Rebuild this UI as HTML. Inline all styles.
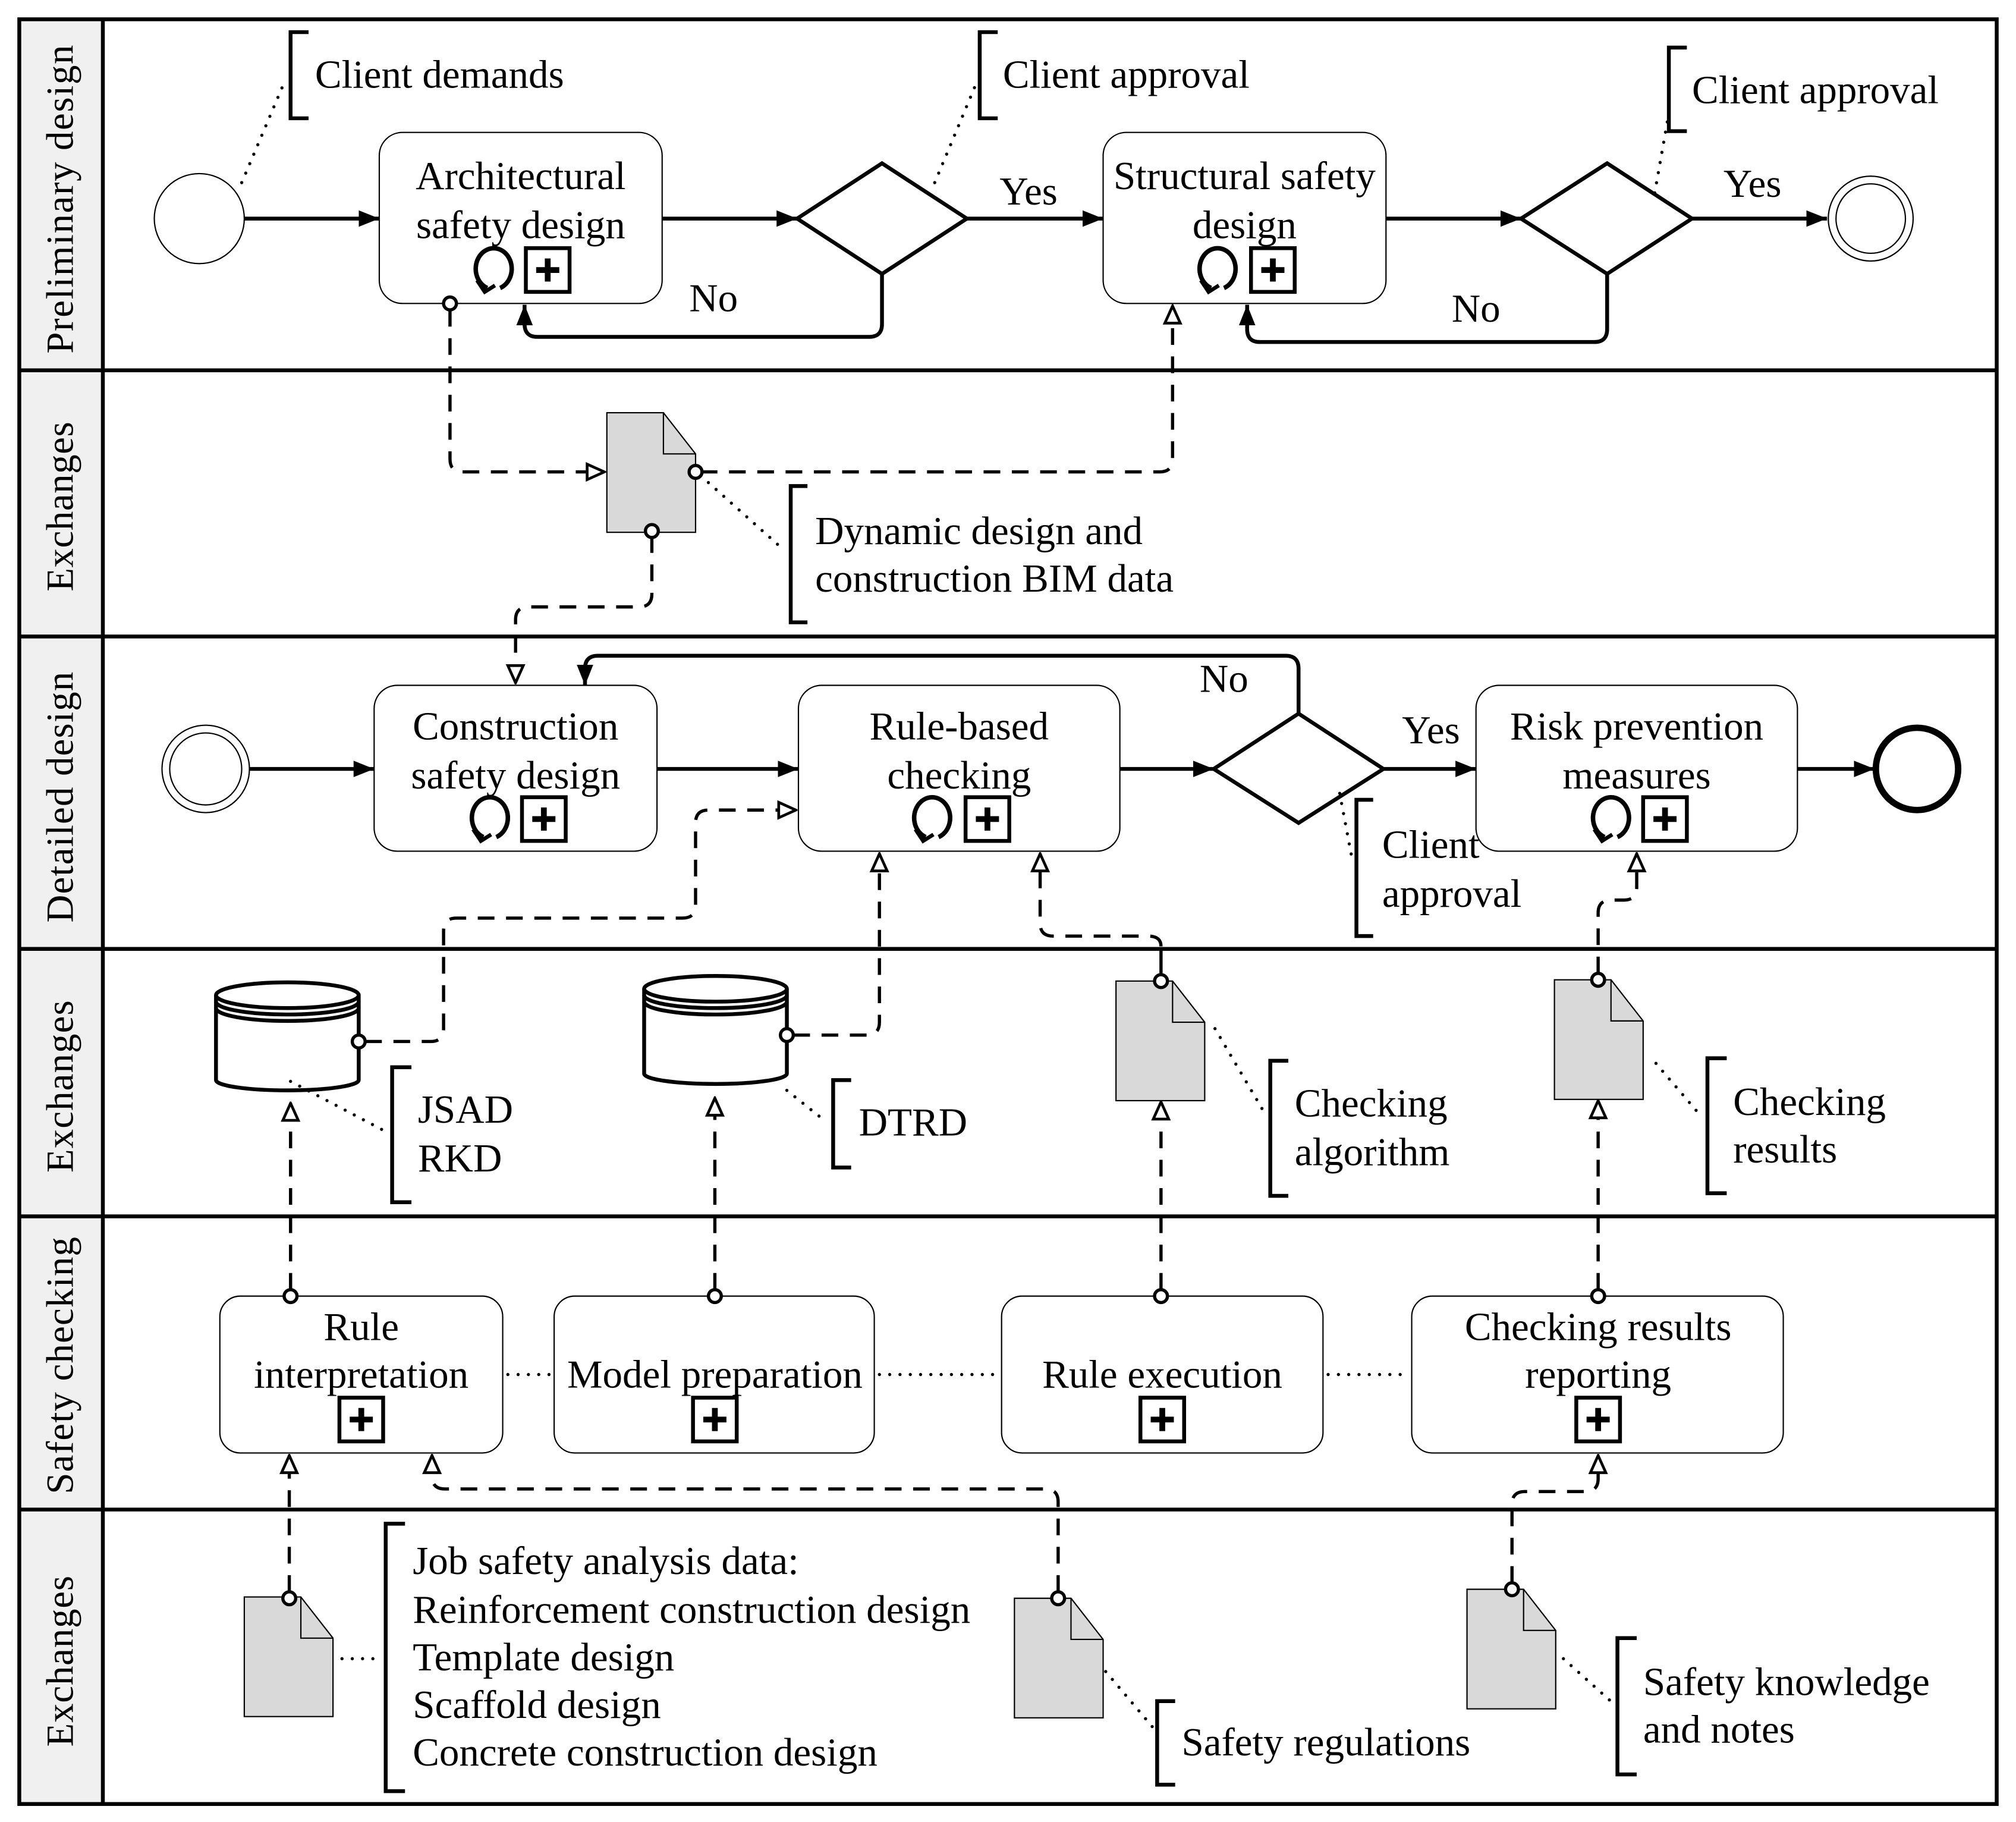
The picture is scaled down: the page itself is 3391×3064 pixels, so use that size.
<!DOCTYPE html>
<html><head><meta charset="utf-8"><style>html,body{margin:0;padding:0;background:#fff}svg{display:block}</style></head>
<body>
<svg width="3391" height="3064" viewBox="0 0 1568 1417" preserveAspectRatio="none" xmlns="http://www.w3.org/2000/svg" font-family="'Liberation Serif', serif" font-size="31">
<defs>
<marker id="fb" viewBox="0 0 10 10" refX="10" refY="5" markerWidth="16" markerHeight="16" markerUnits="userSpaceOnUse" orient="auto"><path d="M0,1 L10,5 L0,9 z" fill="#000"/></marker>
<marker id="oa" viewBox="0 0 12 12" refX="11" refY="6" markerWidth="16" markerHeight="16" markerUnits="userSpaceOnUse" orient="auto"><path d="M1,1.5 L11,6 L1,10.5 z" fill="#fff" stroke="#000" stroke-width="1.6"/></marker>
<g id="loop"><path d="M-4,14 A14,16 0 1 1 6,14" fill="none" stroke="#000" stroke-width="3.5"/><path d="M-12,8 L-6,17 L2,12" fill="none" stroke="#000" stroke-width="3"/></g>
<g id="plus"><rect x="-17" y="-17" width="34" height="34" fill="#fff" stroke="#000" stroke-width="3"/><path d="M-9,0 H9 M0,-9 V9" stroke="#000" stroke-width="4.5"/></g>
<g id="doc"><path d="M0,0 H44 L69,32 V93 H0 Z" fill="#d9d9d9" stroke="#000" stroke-width="1"/><path d="M44,0 V32 H69" fill="none" stroke="#000" stroke-width="1"/></g>
<g id="db"><path d="M0,10 V76 A55.5,8 0 0 0 111,76 V10" fill="#fff" stroke="#000" stroke-width="3"/><ellipse cx="55.5" cy="10" rx="55.5" ry="10" fill="#fff" stroke="#000" stroke-width="3"/><path d="M0,15 A55.5,10 0 0 0 111,15 M0,20 A55.5,10 0 0 0 111,20" fill="none" stroke="#000" stroke-width="3"/></g>
</defs>

<rect x="15" y="15" width="65" height="1388" fill="#f0f0f0"/>
<rect x="15" y="15" width="1538" height="1388" fill="none" stroke="#000" stroke-width="3"/>
<line x1="80" y1="15" x2="80" y2="1403" stroke="#000" stroke-width="3"/>
<g stroke="#000" stroke-width="3">
<line x1="15" y1="288" x2="1553" y2="288"/><line x1="15" y1="495" x2="1553" y2="495"/><line x1="15" y1="738" x2="1553" y2="738"/><line x1="15" y1="946" x2="1553" y2="946"/><line x1="15" y1="1174" x2="1553" y2="1174"/>
</g>
<g font-size="30" text-anchor="middle" dominant-baseline="central" lengthAdjust="spacing">
<text transform="translate(47,155) rotate(-90)" textLength="240" lengthAdjust="spacing">Preliminary  design</text>
<text transform="translate(47,394) rotate(-90)" textLength="132" lengthAdjust="spacing">Exchanges</text>
<text transform="translate(47,620) rotate(-90)" textLength="195" lengthAdjust="spacing">Detailed design</text>
<text transform="translate(47,845) rotate(-90)" textLength="134" lengthAdjust="spacing">Exchanges</text>
<text transform="translate(47,1062) rotate(-90)" textLength="200" lengthAdjust="spacing">Safety checking</text>
<text transform="translate(47,1292) rotate(-90)" textLength="133" lengthAdjust="spacing">Exchanges</text>
</g>

<circle cx="155" cy="170" r="35" fill="#fff" stroke="#000" stroke-width="1"/>
<g stroke="#000" stroke-width="3" fill="none">
<line x1="190" y1="170" x2="295" y2="170" marker-end="url(#fb)"/>
<line x1="515" y1="170" x2="620" y2="170" marker-end="url(#fb)"/>
<line x1="752" y1="170" x2="858" y2="170" marker-end="url(#fb)"/>
<line x1="1078" y1="170" x2="1183" y2="170" marker-end="url(#fb)"/>
<line x1="1316" y1="170" x2="1421" y2="170" marker-end="url(#fb)"/>
<path d="M686,213 V252 Q686,262 676,262 H418 Q408,262 408,252 V237" marker-end="url(#fb)"/>
<path d="M1250,213 V256 Q1250,266 1240,266 H980 Q970,266 970,256 V237" marker-end="url(#fb)"/>
</g>
<rect x="295" y="103" width="220" height="133" rx="18" fill="#fff" stroke="#000" stroke-width="1"/>
<rect x="858" y="103" width="220" height="133" rx="18" fill="#fff" stroke="#000" stroke-width="1"/>
<path d="M620,170 L686,127 L752,170 L686,213 Z" fill="#fff" stroke="#000" stroke-width="3"/>
<path d="M1183,170 L1250,127 L1316,170 L1250,213 Z" fill="#fff" stroke="#000" stroke-width="3"/>
<circle cx="1455" cy="170" r="33" fill="#fff" stroke="#000" stroke-width="1"/>
<circle cx="1455" cy="170" r="27" fill="none" stroke="#000" stroke-width="1"/>
<g text-anchor="middle" dominant-baseline="central">
<text x="405" y="137">Architectural</text><text x="405" y="175">safety design</text>
<text x="968" y="137">Structural safety</text><text x="968" y="175">design</text>
<text x="800" y="149">Yes</text><text x="555" y="232">No</text>
<text x="1363" y="143">Yes</text><text x="1148" y="240">No</text>
</g>
<use href="#loop" x="383" y="210"/><use href="#plus" x="426" y="210"/>
<use href="#loop" x="946" y="210"/><use href="#plus" x="990" y="210"/>
<g fill="none" stroke="#000">
<path d="M240,25 H226 V92 H240" stroke-width="3"/>
<path d="M776,25 H762 V92 H776" stroke-width="3"/>
<path d="M1312,37 H1298 V102 H1312" stroke-width="3"/>
<g stroke-width="2.5" stroke-dasharray="0 8" stroke-linecap="round">
<line x1="188" y1="142" x2="222" y2="62"/><line x1="727" y1="142" x2="758" y2="68"/><line x1="1287" y1="150" x2="1298" y2="88"/>
</g></g>
<g dominant-baseline="central"><text x="245" y="58">Client demands</text><text x="780" y="58">Client approval</text><text x="1316" y="70">Client approval</text></g>

<g fill="none" stroke="#000" stroke-width="2.5" stroke-dasharray="13 9">
<path d="M350,241 V357 Q350,367 360,367 H470" marker-end="url(#oa)"/>
<path d="M545,367 H902 Q912,367 912,357 V238" marker-end="url(#oa)"/>
<path d="M507,417 V462 Q507,472 497,472 H411 Q401,472 401,482 V531" marker-end="url(#oa)"/>
</g>
<use href="#doc" x="472" y="321"/>
<g fill="#fff" stroke="#000" stroke-width="2.5"><circle cx="350" cy="236" r="5"/><circle cx="541" cy="367" r="5"/><circle cx="507" cy="413" r="5"/></g>
<path d="M628,378 H615 V484 H628" fill="none" stroke="#000" stroke-width="3"/>
<line x1="545" y1="370" x2="610" y2="428" stroke="#000" stroke-width="2.5" stroke-dasharray="0 8" stroke-linecap="round"/>
<g dominant-baseline="central"><text x="634" y="413">Dynamic design and</text><text x="634" y="450">construction BIM data</text></g>

<circle cx="160" cy="598" r="34" fill="#fff" stroke="#000" stroke-width="1"/>
<circle cx="160" cy="598" r="28" fill="none" stroke="#000" stroke-width="1"/>
<g stroke="#000" stroke-width="3" fill="none">
<line x1="194" y1="598" x2="291" y2="598" marker-end="url(#fb)"/>
<line x1="511" y1="598" x2="621" y2="598" marker-end="url(#fb)"/>
<line x1="871" y1="598" x2="944" y2="598" marker-end="url(#fb)"/>
<line x1="1076" y1="598" x2="1148" y2="598" marker-end="url(#fb)"/>
<line x1="1398" y1="598" x2="1458" y2="598" marker-end="url(#fb)"/>
<path d="M1010,555 V520 Q1010,510 1000,510 H465 Q455,510 455,520 V533" marker-end="url(#fb)"/>
</g>
<rect x="291" y="533" width="220" height="129" rx="18" fill="#fff" stroke="#000" stroke-width="1"/>
<rect x="621" y="533" width="250" height="129" rx="18" fill="#fff" stroke="#000" stroke-width="1"/>
<rect x="1148" y="533" width="250" height="129" rx="18" fill="#fff" stroke="#000" stroke-width="1"/>
<path d="M944,598 L1010,555 L1076,598 L1010,640 Z" fill="#fff" stroke="#000" stroke-width="3"/>
<circle cx="1491" cy="598" r="32" fill="#fff" stroke="#000" stroke-width="5"/>
<g text-anchor="middle" dominant-baseline="central">
<text x="401" y="565">Construction</text><text x="401" y="603">safety design</text>
<text x="746" y="565">Rule-based</text><text x="746" y="603">checking</text>
<text x="1273" y="565">Risk prevention</text><text x="1273" y="603">measures</text>
<text x="952" y="528">No</text><text x="1113" y="568">Yes</text>
</g>
<use href="#loop" x="380" y="637"/><use href="#plus" x="423" y="637"/>
<use href="#loop" x="724" y="637"/><use href="#plus" x="768" y="637"/>
<use href="#loop" x="1252" y="637"/><use href="#plus" x="1295" y="637"/>
<path d="M1068,622 H1055 V728 H1068" fill="none" stroke="#000" stroke-width="3"/>
<line x1="1042" y1="617" x2="1052" y2="670" stroke="#000" stroke-width="2.5" stroke-dasharray="0 8" stroke-linecap="round"/>
<g dominant-baseline="central"><text x="1075" y="657">Client</text><text x="1075" y="695">approval</text></g>

<g fill="none" stroke="#000" stroke-width="2.5" stroke-dasharray="13 9">
<path d="M284,810 H335 Q345,810 345,800 V724 Q345,714 355,714 H531 Q541,714 541,704 V640 Q541,630 551,630 H619" marker-end="url(#oa)"/>
<path d="M617,805 H674 Q684,805 684,795 V664" marker-end="url(#oa)"/>
<path d="M1243,757 V710 Q1243,700 1253,700 H1263 Q1273,700 1273,690 V664" marker-end="url(#oa)"/>
<line x1="226" y1="1003" x2="226" y2="858" marker-end="url(#oa)"/>
<line x1="556" y1="1003" x2="556" y2="854" marker-end="url(#oa)"/>
<line x1="903" y1="1003" x2="903" y2="857" marker-end="url(#oa)"/>
<line x1="1243" y1="1003" x2="1243" y2="856" marker-end="url(#oa)"/>
</g>
<line x1="903" y1="758" x2="903" y2="739" stroke="#000" stroke-width="2.5"/>
<path d="M903,736 Q903,728 893,728 H819 Q809,728 809,718 V664" fill="none" stroke="#000" stroke-width="2.5" stroke-dasharray="13 9" marker-end="url(#oa)"/>
<use href="#db" x="168" y="764"/>
<use href="#db" x="501" y="759"/>
<use href="#doc" x="868" y="763"/>
<use href="#doc" x="1209" y="762"/>
<g fill="#fff" stroke="#000" stroke-width="2.5">
<circle cx="279" cy="810" r="5"/><circle cx="612" cy="805" r="5"/><circle cx="903" cy="763" r="5"/><circle cx="1243" cy="762" r="5"/>
</g>
<g fill="none" stroke="#000" stroke-width="3">
<path d="M320,830 H305 V935 H320"/><path d="M662,840 H648 V908 H662"/><path d="M1002,825 H988 V930 H1002"/><path d="M1343,823 H1328 V928 H1343"/>
</g>
<g stroke="#000" stroke-width="2.5" stroke-dasharray="0 8" stroke-linecap="round">
<line x1="226" y1="841" x2="300" y2="880"/><line x1="612" y1="848" x2="642" y2="872"/><line x1="945" y1="800" x2="985" y2="868"/><line x1="1288" y1="827" x2="1323" y2="868"/>
</g>
<g dominant-baseline="central">
<text x="325" y="863">JSAD</text><text x="325" y="901">RKD</text><text x="668" y="873">DTRD</text>
<text x="1007" y="858">Checking</text><text x="1007" y="896">algorithm</text>
<text x="1348" y="857">Checking</text><text x="1348" y="894">results</text>
</g>

<g stroke="#000" stroke-width="2.5" stroke-dasharray="0 8" stroke-linecap="round">
<line x1="395" y1="1069" x2="428" y2="1069"/><line x1="684" y1="1069" x2="776" y2="1069"/><line x1="1033" y1="1069" x2="1095" y2="1069"/>
</g>
<rect x="171" y="1008" width="220" height="122" rx="16" fill="#fff" stroke="#000" stroke-width="1"/>
<rect x="431" y="1008" width="249" height="122" rx="16" fill="#fff" stroke="#000" stroke-width="1"/>
<rect x="779" y="1008" width="250" height="122" rx="16" fill="#fff" stroke="#000" stroke-width="1"/>
<rect x="1098" y="1008" width="289" height="122" rx="16" fill="#fff" stroke="#000" stroke-width="1"/>
<g fill="#fff" stroke="#000" stroke-width="2.5"><circle cx="226" cy="1008" r="5"/><circle cx="556" cy="1008" r="5"/><circle cx="903" cy="1008" r="5"/><circle cx="1243" cy="1008" r="5"/></g>
<g text-anchor="middle" dominant-baseline="central">
<text x="281" y="1032">Rule</text><text x="281" y="1069">interpretation</text>
<text x="556" y="1069">Model preparation</text>
<text x="904" y="1069">Rule execution</text>
<text x="1243" y="1032">Checking results</text><text x="1243" y="1069">reporting</text>
</g>
<use href="#plus" x="281" y="1104"/><use href="#plus" x="556" y="1104"/><use href="#plus" x="904" y="1104"/><use href="#plus" x="1243" y="1104"/>

<g fill="none" stroke="#000" stroke-width="2.5" stroke-dasharray="13 9">
<line x1="225" y1="1238" x2="225" y2="1132" marker-end="url(#oa)"/>
<path d="M823,1238 V1168 Q823,1158 813,1158 H346 Q336,1158 336,1148 V1132" marker-end="url(#oa)"/>
<path d="M1176,1231 V1170 Q1176,1160 1186,1160 H1233 Q1243,1160 1243,1150 V1132" marker-end="url(#oa)"/>
</g>
<use href="#doc" x="190" y="1242"/><use href="#doc" x="789" y="1243"/><use href="#doc" x="1141" y="1236"/>
<g fill="#fff" stroke="#000" stroke-width="2.5"><circle cx="225" cy="1243" r="5"/><circle cx="823" cy="1243" r="5"/><circle cx="1176" cy="1236" r="5"/></g>
<g fill="none" stroke="#000" stroke-width="3">
<path d="M315,1185 H300 V1393 H315"/><path d="M914,1323 H900 V1388 H914"/><path d="M1273,1274 H1258 V1380 H1273"/>
</g>
<g stroke="#000" stroke-width="2.5" stroke-dasharray="0 8" stroke-linecap="round">
<line x1="266" y1="1290" x2="295" y2="1290"/><line x1="860" y1="1300" x2="898" y2="1345"/><line x1="1216" y1="1290" x2="1255" y2="1325"/>
</g>
<g dominant-baseline="central">
<text x="321" y="1214">Job safety analysis data:</text>
<text x="321" y="1252">Reinforcement construction design</text>
<text x="321" y="1289">Template design</text>
<text x="321" y="1326">Scaffold design</text>
<text x="321" y="1363">Concrete construction design</text>
<text x="919" y="1355">Safety regulations</text>
<text x="1278" y="1308">Safety knowledge</text><text x="1278" y="1345">and notes</text>
</g>
</svg>
</body></html>
